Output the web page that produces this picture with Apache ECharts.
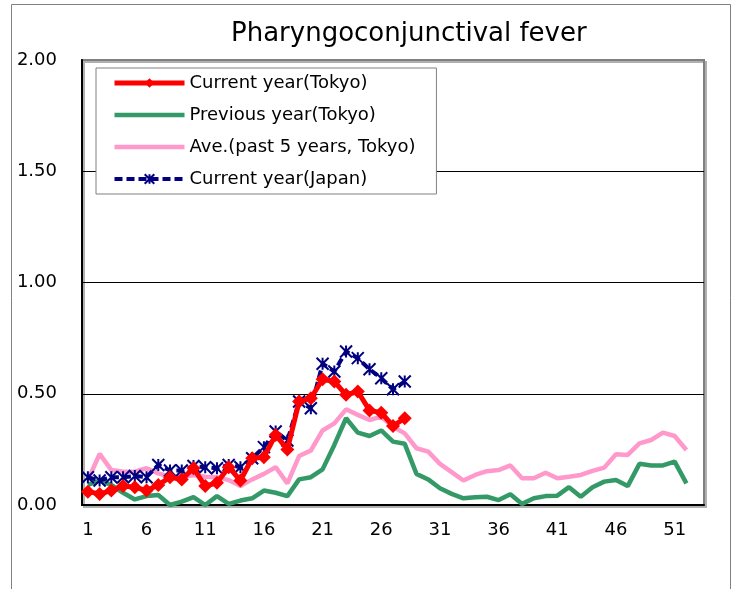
<!DOCTYPE html>
<html><head><meta charset="utf-8">
<script src="https://cdn.jsdelivr.net/npm/echarts@6/dist/echarts.min.js"></script>
<style>html,body{margin:0;padding:0;background:#fff}#c{width:736px;height:589px}</style>
</head><body><div id="c"></div>
<script>
const titleText = 'Pharyngoconjunctival fever';
const weeks = ['1','2','3','4','5','6','7','8','9','10','11','12','13','14','15','16','17','18','19','20',
  '21','22','23','24','25','26','27','28','29','30','31','32','33','34','35','36','37','38','39','40',
  '41','42','43','44','45','46','47','48','49','50','51','52','53'];
const seriesNames = ['Current year(Tokyo)', 'Previous year(Tokyo)', 'Ave.(past 5 years, Tokyo)', 'Current year(Japan)'];
const currentTokyo = [0.06,0.05,0.065,0.085,0.08,0.065,0.09,0.125,0.115,0.165,
  0.085,0.10,0.17,0.11,0.21,0.215,0.315,0.25,0.465,0.48,
  0.565,0.555,0.495,0.51,0.425,0.415,0.355,0.39];
const previousTokyo = [0.09,0.11,0.09,0.055,0.025,0.04,0.045,0.0,0.015,0.035,
  0.0,0.04,0.005,0.02,0.03,0.065,0.055,0.04,0.115,0.125,
  0.16,0.27,0.39,0.325,0.31,0.335,0.285,0.275,0.14,0.115,
  0.075,0.05,0.03,0.035,0.037,0.022,0.048,0.005,0.03,0.04,
  0.042,0.08,0.037,0.08,0.105,0.112,0.085,0.185,0.178,0.178,0.195,0.097];
const avgTokyo = [0.11,0.23,0.157,0.15,0.15,0.165,0.142,0.127,0.125,0.135,
  0.127,0.125,0.112,0.085,0.115,0.14,0.17,0.097,0.22,0.245,
  0.335,0.367,0.43,0.405,0.382,0.397,0.352,0.322,0.255,0.24,
  0.185,0.148,0.11,0.135,0.152,0.157,0.178,0.12,0.12,0.145,
  0.12,0.127,0.135,0.153,0.168,0.228,0.225,0.277,0.292,0.325,0.31,0.247];
const currentJapan = [0.125,0.11,0.125,0.125,0.13,0.125,0.18,0.155,0.155,0.175,
  0.17,0.165,0.18,0.17,0.21,0.26,0.33,0.29,0.465,0.435,
  0.635,0.60,0.69,0.66,0.61,0.57,0.52,0.555];
const yMin = 0, yMax = 2, yStep = 0.5;

const FONT = 'DejaVu Sans';
const chart = echarts.init(document.getElementById('c'), null, {renderer: 'canvas'});
const asterisk = 'path://M0,0L10,10M10,0L0,10M5,0L5,10';

chart.setOption({
  animation: false,
  backgroundColor: '#fff',
  textStyle: {fontFamily: FONT},
  title: {
    text: titleText, left: 231, top: 21, padding: 0,
    textStyle: {fontFamily: FONT, fontSize: 26, fontWeight: 'normal', color: '#000'}
  },
  graphic: [{
    type: 'rect', left: 9, top: 2, silent: true, z: -10,
    shape: {width: 719, height: 620},
    style: {fill: 'none', stroke: '#808080', lineWidth: 1}
  }],
  legend: {
    orient: 'vertical', left: 96, top: 68,
    padding: [5, 21, 5, 16],
    itemWidth: 70, itemHeight: 12, itemGap: 12,
    backgroundColor: '#fff', borderColor: '#808080', borderWidth: 1,
    textStyle: {fontFamily: FONT, fontSize: 18, color: '#000', lineHeight: 20},
    lineStyle: {width: 'inherit'},
    data: [
      {name: seriesNames[0]},
      {name: seriesNames[1], itemStyle: {opacity: 0}},
      {name: seriesNames[2], itemStyle: {opacity: 0}},
      {name: seriesNames[3]}
    ]
  },
  grid: {
    left: 82, right: 32, top: 60, bottom: 84,
    show: true, backgroundColor: '#fff', borderColor: '#808080', borderWidth: 2,
    shadowColor: '#b0b0b0', shadowOffsetX: 2, shadowOffsetY: 2
  },
  xAxis: {
    type: 'category', data: weeks, boundaryGap: true,
    axisLine: {lineStyle: {color: '#000', width: 2}},
    axisTick: {inside: true, interval: 4, length: 6, lineStyle: {color: '#000', width: 1}},
    axisLabel: {interval: 4, margin: 16, fontFamily: FONT, fontSize: 18, color: '#000'},
    splitLine: {show: false}
  },
  yAxis: {
    type: 'value', min: yMin, max: yMax, interval: yStep,
    axisLine: {show: true, lineStyle: {color: '#000', width: 2}},
    axisTick: {show: false},
    axisLabel: {margin: 25, fontFamily: FONT, fontSize: 18, color: '#000',
      formatter: v => v.toFixed(2)},
    splitLine: {show: true, lineStyle: {color: ['#000','#000','#000','#000','#808080'], width: 1}}
  },
  series: [
    {
      name: seriesNames[1], type: 'line', data: previousTokyo, z: 2,
      symbol: 'none', lineStyle: {color: '#339966', width: 4.5}, itemStyle: {color: '#339966'}
    },
    {
      name: seriesNames[2], type: 'line', data: avgTokyo, z: 3,
      symbol: 'none', lineStyle: {color: '#FF99CC', width: 4.5}, itemStyle: {color: '#FF99CC'}
    },
    {
      name: seriesNames[3], type: 'line', data: currentJapan, z: 4,
      symbol: asterisk, symbolSize: 12, showAllSymbol: true,
      lineStyle: {color: '#000080', width: 4, type: [8, 4]},
      itemStyle: {color: '#000080', borderColor: '#000080', borderWidth: 2}
    },
    {
      name: seriesNames[0], type: 'line', data: currentTokyo, z: 5,
      symbol: 'diamond', symbolSize: 14, showAllSymbol: true,
      lineStyle: {color: '#FF0000', width: 5}, itemStyle: {color: '#FF0000'}
    }
  ]
});
</script></body></html>
